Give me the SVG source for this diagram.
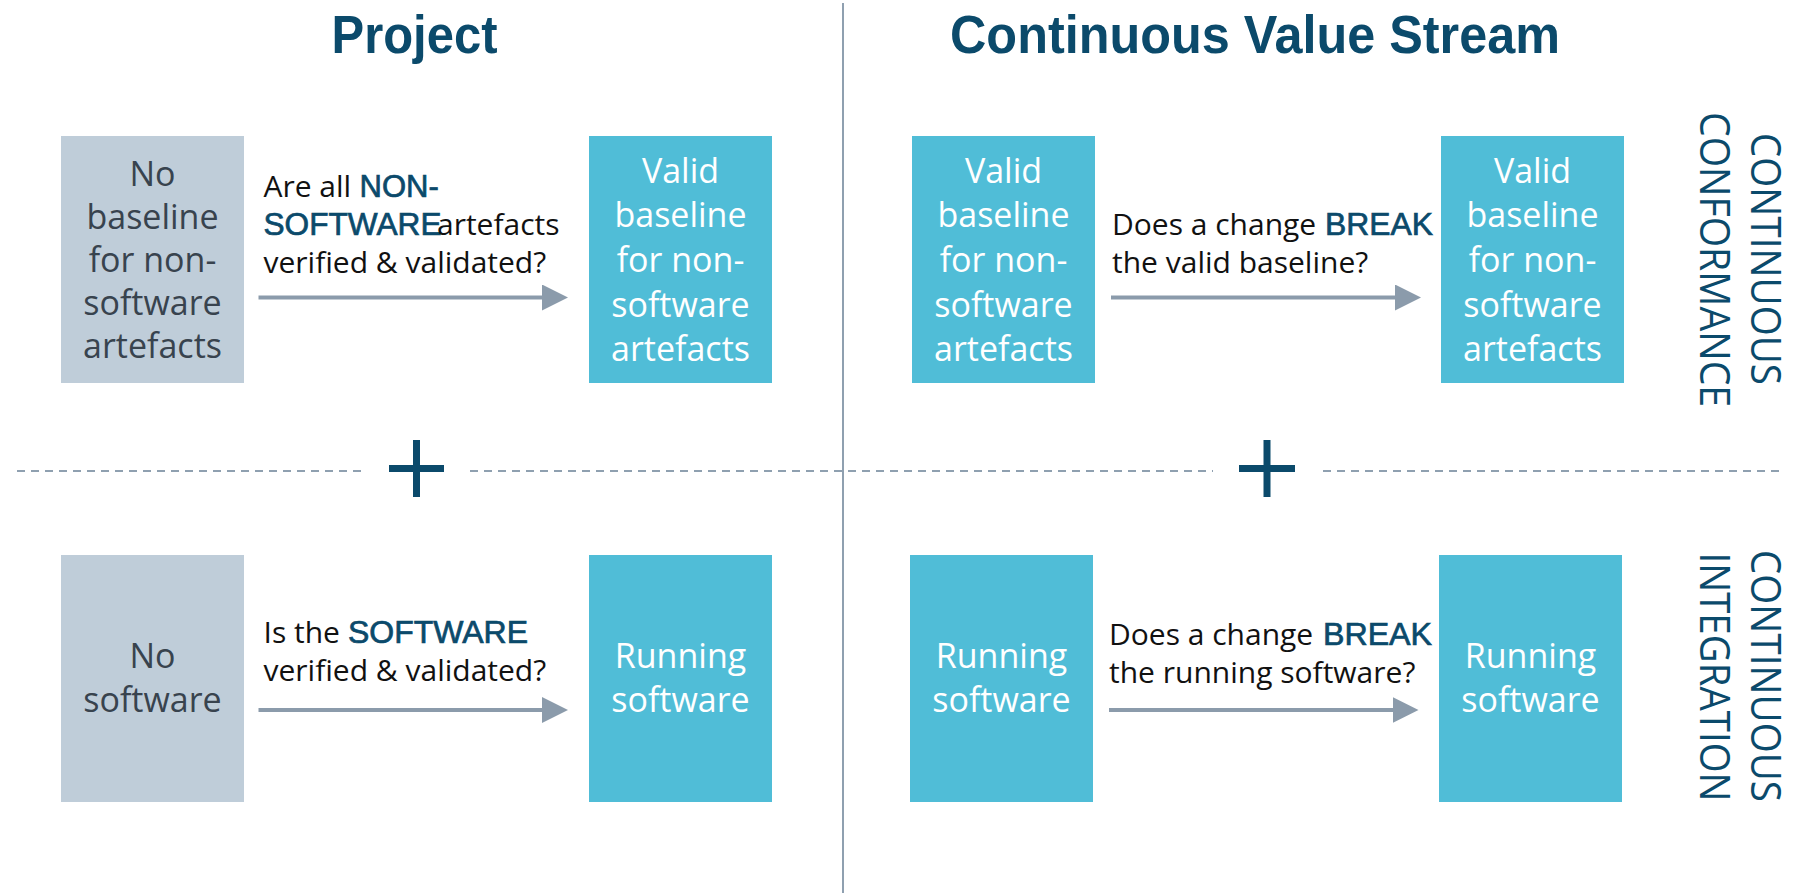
<svg xmlns="http://www.w3.org/2000/svg" width="1794" height="893" viewBox="0 0 1794 893">
<style>
.title{font-family:"Liberation Sans",Arial,sans-serif;font-weight:bold;font-size:54px;fill:#0b4a6b;text-anchor:middle}
.gray{fill:#bfcdd9}
.cyan{fill:#50bdd7}
.bt{font-family:"Open Sans","Noto Sans",sans-serif;font-size:34px;text-anchor:middle}
.bt-dark{fill:#38434e}
.bt-light{fill:#ffffff}
.lbl{font-family:"Open Sans","Noto Sans",sans-serif;font-size:30px;fill:#111111}
.hl{font-family:"Liberation Sans",Arial,sans-serif;font-size:31px;fill:#0b4a6b;stroke:#0b4a6b;stroke-width:0.7}
.side{font-family:"Open Sans","Noto Sans",sans-serif;font-size:42px;fill:#0b4a6b;text-anchor:middle}
.conn{stroke:#8b9bab;stroke-width:4;fill:none;marker-end:url(#ah)}
.plus{stroke:#0b4a6b;stroke-width:7}
.dash{stroke:#8fa0b0;stroke-width:2;stroke-dasharray:8 6}
</style>
<defs>
<marker id="ah" viewBox="0 0 26 26" markerWidth="26" markerHeight="26" markerUnits="userSpaceOnUse" refX="6" refY="13" orient="auto">
<path d="M0,0 L26,13 L0,26 Z" fill="#8b9bab"/>
</marker>
</defs>
<rect width="1794" height="893" fill="#ffffff"/>

<g id="frame">
<line x1="843" y1="3" x2="843" y2="893" stroke="#8fa0b0" stroke-width="2"/>
<line class="dash" x1="17" y1="471" x2="363" y2="471"/>
<line class="dash" x1="470" y1="471" x2="1213" y2="471"/>
<line class="dash" x1="1323" y1="471" x2="1782" y2="471"/>
<text class="title" x="414.5" y="53" textLength="166" lengthAdjust="spacingAndGlyphs">Project</text>
<text class="title" x="1255" y="53" textLength="610" lengthAdjust="spacingAndGlyphs">Continuous Value Stream</text>
</g>

<g id="plus-left">
<line class="plus" x1="416.5" y1="440" x2="416.5" y2="497"/>
<line class="plus" x1="389" y1="468.5" x2="444" y2="468.5"/>
</g>
<g id="plus-right">
<line class="plus" x1="1267" y1="440" x2="1267" y2="497"/>
<line class="plus" x1="1239" y1="468.5" x2="1295" y2="468.5"/>
</g>

<g id="node-no-baseline">
<rect class="gray" x="61" y="136" width="183" height="247"/>
<text class="bt bt-dark"><tspan x="152.5" y="186">No</tspan><tspan x="152.5" y="229">baseline</tspan><tspan x="152.5" y="272">for non-</tspan><tspan x="152.5" y="315">software</tspan><tspan x="152.5" y="358">artefacts</tspan></text>
</g>
<g id="node-valid-baseline-1">
<rect class="cyan" x="589" y="136" width="183" height="247"/>
<text class="bt bt-light"><tspan x="680.5" y="183">Valid</tspan><tspan x="680.5" y="227">baseline</tspan><tspan x="680.5" y="272">for non-</tspan><tspan x="680.5" y="317">software</tspan><tspan x="680.5" y="361">artefacts</tspan></text>
</g>
<g id="node-valid-baseline-2">
<rect class="cyan" x="912" y="136" width="183" height="247"/>
<text class="bt bt-light"><tspan x="1003.5" y="183">Valid</tspan><tspan x="1003.5" y="227">baseline</tspan><tspan x="1003.5" y="272">for non-</tspan><tspan x="1003.5" y="317">software</tspan><tspan x="1003.5" y="361">artefacts</tspan></text>
</g>
<g id="node-valid-baseline-3">
<rect class="cyan" x="1441" y="136" width="183" height="247"/>
<text class="bt bt-light"><tspan x="1532.5" y="183">Valid</tspan><tspan x="1532.5" y="227">baseline</tspan><tspan x="1532.5" y="272">for non-</tspan><tspan x="1532.5" y="317">software</tspan><tspan x="1532.5" y="361">artefacts</tspan></text>
</g>

<g id="node-no-software">
<rect class="gray" x="61" y="555" width="183" height="247"/>
<text class="bt bt-dark"><tspan x="152.5" y="668">No</tspan><tspan x="152.5" y="712">software</tspan></text>
</g>
<g id="node-running-1">
<rect class="cyan" x="589" y="555" width="183" height="247"/>
<text class="bt bt-light"><tspan x="680.5" y="668">Running</tspan><tspan x="680.5" y="712">software</tspan></text>
</g>
<g id="node-running-2">
<rect class="cyan" x="910" y="555" width="183" height="247"/>
<text class="bt bt-light"><tspan x="1001.5" y="668">Running</tspan><tspan x="1001.5" y="712">software</tspan></text>
</g>
<g id="node-running-3">
<rect class="cyan" x="1439" y="555" width="183" height="247"/>
<text class="bt bt-light"><tspan x="1530.5" y="668">Running</tspan><tspan x="1530.5" y="712">software</tspan></text>
</g>

<g id="connectors">
<line class="conn" x1="258.5" y1="297.5" x2="548" y2="297.5"/>
<line class="conn" x1="258.5" y1="710" x2="548" y2="710"/>
<line class="conn" x1="1111" y1="297.5" x2="1401" y2="297.5"/>
<line class="conn" x1="1109" y1="710" x2="1398.5" y2="710"/>
</g>

<g id="labels">
<text class="lbl" x="263.5" y="197">Are all </text>
<text class="hl" x="359.5" y="197">NON-</text>
<text class="hl" x="263.5" y="235" textLength="178" lengthAdjust="spacingAndGlyphs">SOFTWARE</text>
<text class="lbl" x="437" y="235">artefacts</text>
<text class="lbl" x="263.5" y="273">verified &amp; validated?</text>

<text class="lbl" x="263.5" y="643">Is the </text>
<text class="hl" x="348" y="643" textLength="180" lengthAdjust="spacingAndGlyphs">SOFTWARE</text>
<text class="lbl" x="263.5" y="681">verified &amp; validated?</text>

<text class="lbl" x="1112" y="235">Does a change </text>
<text class="hl" x="1325" y="235" textLength="108" lengthAdjust="spacingAndGlyphs">BREAK</text>
<text class="lbl" x="1112" y="273">the valid baseline?</text>

<text class="lbl" x="1109" y="645">Does a change </text>
<text class="hl" x="1323" y="645" textLength="109" lengthAdjust="spacingAndGlyphs">BREAK</text>
<text class="lbl" x="1109" y="683">the running software?</text>
</g>

<g id="side-labels">
<text class="side" transform="translate(1751,259) rotate(90)" x="0" y="0" textLength="252" lengthAdjust="spacingAndGlyphs">CONTINUOUS</text>
<text class="side" transform="translate(1700,259.5) rotate(90)" x="0" y="0" textLength="295" lengthAdjust="spacingAndGlyphs">CONFORMANCE</text>
<text class="side" transform="translate(1751,676) rotate(90)" x="0" y="0" textLength="252" lengthAdjust="spacingAndGlyphs">CONTINUOUS</text>
<text class="side" transform="translate(1700,677) rotate(90)" x="0" y="0" textLength="249" lengthAdjust="spacingAndGlyphs">INTEGRATION</text>
</g>
</svg>
